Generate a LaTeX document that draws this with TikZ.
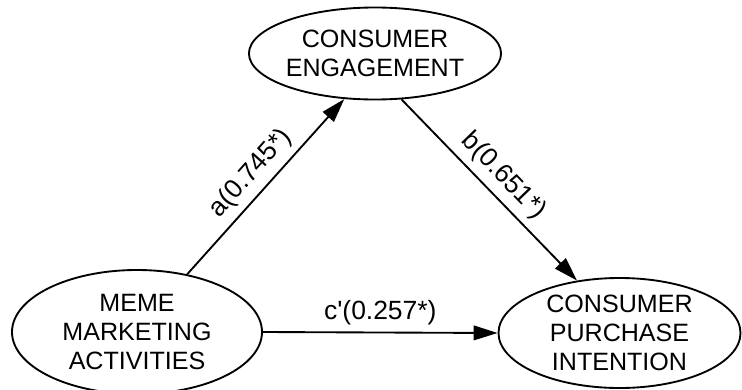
\documentclass[tikz,border=0pt]{standalone}
\usepackage{fontspec}
\setmainfont{Liberation Sans}
\usetikzlibrary{shapes.geometric,arrows.meta}
\begin{document}
\begin{tikzpicture}[x=0.75pt,y=-0.75pt,
  construct/.style={draw,ellipse,line width=1.4pt,inner sep=0pt,align=center,
    font=\fontsize{18.8}{22}\selectfont},
  link/.style={line width=1.4pt,-{Triangle[length=18pt,width=11pt]}},
  coef/.style={font=\fontsize{19.8}{22}\selectfont,sloped,above,inner sep=5pt}]
\useasboundingbox (0,0) rectangle (742,389);
\node[construct,minimum width=174pt,minimum height=69pt] (ce) at (375,53.5) {CONSUMER\\ENGAGEMENT};
\node[construct,minimum width=187.5pt,minimum height=93pt] (mma) at (137,332) {MEME\\MARKETING\\ACTIVITIES};
\node[construct,minimum width=181.5pt,minimum height=82.5pt] (cpi) at (619.5,333) {CONSUMER\\PURCHASE\\INTENTION};
\draw[link] (mma.49) -- node[coef]{a(0.745*)} (ce.-124);
\draw[link] (ce.-60.5) -- node[coef]{b(0.651*)} (cpi.129);
\draw[link] (mma.0) -- node[coef]{c\textquotesingle(0.257*)} (cpi.180);
\end{tikzpicture}
\end{document}
